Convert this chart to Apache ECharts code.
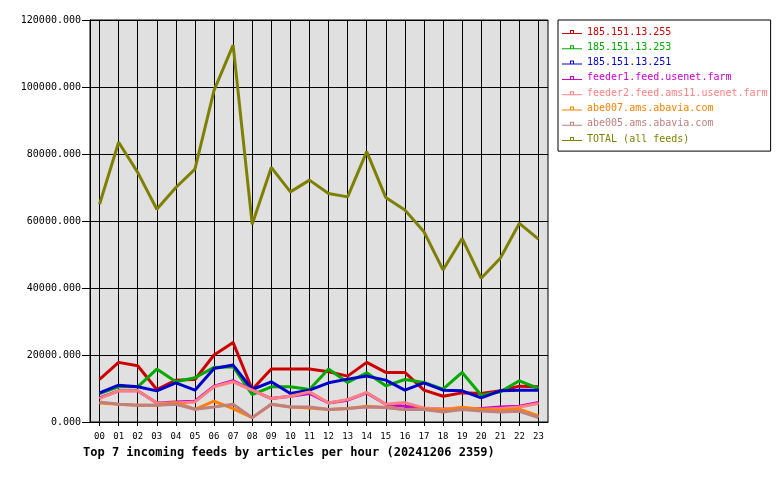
<!DOCTYPE html>
<html>
<head>
<meta charset="utf-8">
<script src="https://cdn.jsdelivr.net/npm/echarts@6/dist/echarts.min.js"></script>
<style>
    html, body { margin: 0; padding: 0; background: #fff; }
    #chart { width: 780px; height: 480px; }
</style>
</head>
<body>
<div id="chart"></div>
<script>
// hours on the x axis
var hours = ['00','01','02','03','04','05','06','07','08','09','10','11',
             '12','13','14','15','16','17','18','19','20','21','22','23'];

// articles per hour
var feed255 = [12700,17800,16800,9700,12500,12700,20000,23700,9700,15800,15800,15800,
               15000,13700,17800,14800,14800,9500,7700,8700,8500,9300,10700,10500];
var feed253 = [8500,10500,10500,15800,12000,13200,16300,16500,8200,10500,10500,9700,
               15800,11800,14700,10800,12700,11800,9800,14800,8000,9000,12300,10000];
var feed251 = [8700,11000,10500,9300,11700,9500,16000,17000,9700,12000,8500,9500,
               11700,12800,13700,12500,9500,11700,9500,9300,7200,9300,9500,9500];
var feeder1 = [7200,9300,9300,5700,6000,6200,10700,12300,9500,7000,7700,8500,
               5700,6500,8700,5300,4700,4000,3800,4000,4000,4500,4700,5800];
var feeder2 = [7000,9300,9300,5700,5700,6000,10500,12000,9500,7000,7700,9000,
               5700,6700,8800,5300,5800,4200,3800,4300,3800,4000,4500,5500];
var abe007  = [5700,5300,5000,5000,5800,3800,6200,4000,1300,5300,4500,4200,
               3700,4000,4700,4300,3700,3900,3500,4300,3800,3500,3800,1800];
var abe005  = [6000,5300,5000,5000,5300,3800,4500,5300,1300,5300,4500,4500,
               3700,4000,4500,4300,3700,3700,3000,3700,3300,3000,3200,1300];
var total   = [65000,83500,74500,63500,70000,75500,99000,112500,59000,76000,68700,72200,
               68200,67200,80700,67000,63300,56800,45400,54800,42900,48900,59300,54600];

var names  = ['185.151.13.255','185.151.13.253','185.151.13.251','feeder1.feed.usenet.farm',
              'feeder2.feed.ams11.usenet.farm','abe007.ams.abavia.com','abe005.ams.abavia.com','TOTAL (all feeds)'];
var colors = ['#cc0000','#00aa00','#0000cc','#cc00cc','#ff8080','#ff8000','#c08080','#808000'];
var values = [feed255, feed253, feed251, feeder1, feeder2, abe007, abe005, total];

var mono = '"DejaVu Sans Mono", monospace';
// little line + open box, like the legend marks of the original
var legendMark = 'path://M0,3h20v1h-20z M8,0h4v1h-4z M8,0h1v4h-1z M11,0h1v4h-1z';

var series = [];
var legendData = [];
for (var i = 0; i < names.length; i++) {
    series.push({
        name: names[i],
        type: 'line',
        data: values[i],
        showSymbol: false,
        symbol: 'none',
        color: colors[i],
        lineStyle: { width: 3, color: colors[i] },
        animation: false
    });
    legendData.push({ name: names[i], textStyle: { color: colors[i] } });
}

var chart = echarts.init(document.getElementById('chart'));
chart.setOption({
    backgroundColor: '#fff',
    animation: false,
    title: {
        text: 'Top 7 incoming feeds by articles per hour (20241206 2359)',
        left: 78,
        top: 442,
        textStyle: { fontFamily: mono, fontSize: 12, fontWeight: 'bold', color: '#000' }
    },
    legend: {
        orient: 'vertical',
        left: 558,
        top: 20,
        padding: [6, 3, 6, 4],
        itemGap: 3.3,
        itemWidth: 20,
        itemHeight: 4,
        icon: legendMark,
        backgroundColor: '#fff',
        borderColor: '#000',
        borderWidth: 1,
        borderRadius: 0,
        itemStyle: { borderWidth: 0 },
        textStyle: { fontFamily: mono, fontSize: 10, lineHeight: 12 },
        data: legendData
    },
    grid: {
        left: 90, top: 20, width: 458, height: 402,
        show: true,
        backgroundColor: '#e0e0e0',
        borderColor: '#000',
        borderWidth: 1
    },
    xAxis: {
        type: 'category',
        data: hours,
        boundaryGap: true,
        axisLine: { lineStyle: { color: '#000', width: 1 } },
        axisTick: { show: true, alignWithLabel: true, length: 4, lineStyle: { color: '#000' } },
        splitLine: { show: true, alignWithLabel: true, lineStyle: { color: '#000', width: 1 } },
        axisLabel: { fontFamily: mono, fontSize: 9, color: '#000', margin: 10, interval: 0 }
    },
    yAxis: {
        type: 'value',
        min: 0,
        max: 120000,
        interval: 20000,
        axisLine: { show: true, lineStyle: { color: '#000' } },
        axisTick: { show: true, length: 8, lineStyle: { color: '#000' } },
        splitLine: { show: true, lineStyle: { color: '#000', width: 1 } },
        axisLabel: {
            fontFamily: mono, fontSize: 10, color: '#000', margin: 9,
            formatter: function (v) { return v.toFixed(3); }
        }
    },
    series: series
});
</script>
</body>
</html>
